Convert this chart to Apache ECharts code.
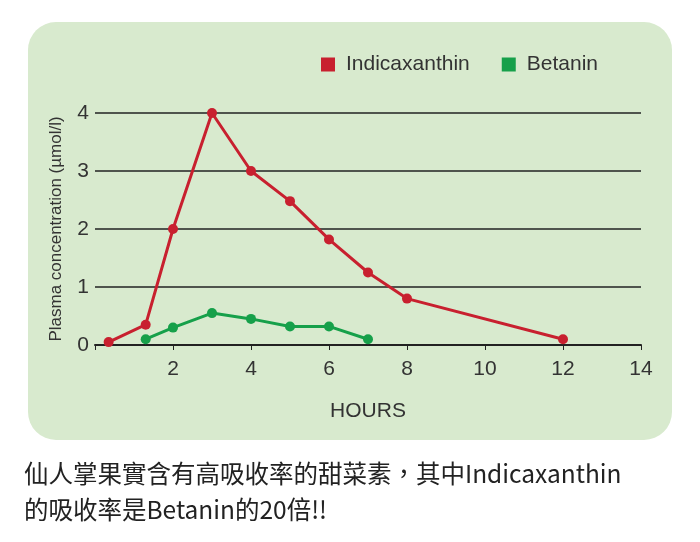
<!DOCTYPE html>
<html><head><meta charset="utf-8">
<script src="https://cdn.jsdelivr.net/npm/echarts@6/dist/echarts.min.js"></script>
<style>body{margin:0;background:#fff}#c{width:700px;height:542px}</style>
</head><body><div id="c"></div>
<script>
const indicaxanthin = [[0.35,0.05],[1.3,0.35],[2,2],[3,4],[4,3],[5,2.48],[6,1.82],[7,1.25],[8,0.8],[12,0.1]];
const betanin = [[1.3,0.1],[2,0.3],[3,0.55],[4,0.45],[5,0.32],[6,0.32],[7,0.1]];
const seriesNames = ['Indicaxanthin','Betanin'];
const caption = ['仙人掌果實含有高吸收率的甜菜素，其中Indicaxanthin','的吸收率是Betanin的20倍!!'];
const chart = echarts.init(document.getElementById('c'));
chart.setOption({
  animation:false,
  graphic:[
    {type:'rect',z:-10,shape:{x:28,y:22,width:644,height:418,r:28},style:{fill:'#d8eace'}},
    {type:'text',left:24,top:456,style:{text:caption.join('\n'),font:'24.5px "Noto Sans CJK TC"',fill:'#222',lineHeight:36}}
  ],
  legend:{top:49,left:316,itemWidth:14,itemHeight:14,itemGap:32,icon:'rect',
    textStyle:{fontSize:21,color:'#333',fontFamily:'Liberation Sans',padding:[0,0,0,6]},data:seriesNames},
  grid:{left:95,right:59,top:113,bottom:197},
  xAxis:{type:'value',min:0,max:14,interval:2,name:'HOURS',nameLocation:'middle',nameGap:56,
    nameTextStyle:{fontSize:21,color:'#333',fontFamily:'Liberation Sans'},
    axisLine:{lineStyle:{color:'#222',width:2}},axisTick:{show:true,length:5,lineStyle:{color:'#222'}},
    splitLine:{show:false},
    axisLabel:{fontSize:21,color:'#333',margin:14,fontFamily:'Liberation Sans',formatter:v=>v===0?'':v}},
  yAxis:{type:'value',min:0,max:4,interval:1,name:'Plasma concentration (µmol/l)',nameLocation:'middle',nameGap:30,
    nameTextStyle:{fontSize:17,color:'#333',fontFamily:'Liberation Sans'},
    axisLine:{show:false},axisTick:{show:false},
    splitLine:{lineStyle:{color:'#222',width:1.5}},
    axisLabel:{fontSize:21,color:'#333',margin:6,fontFamily:'Liberation Sans'}},
  series:[
    {name:seriesNames[0],type:'line',data:indicaxanthin,color:'#c8202f',symbol:'circle',symbolSize:10,lineStyle:{width:3}},
    {name:seriesNames[1],type:'line',data:betanin,color:'#16a04a',symbol:'circle',symbolSize:10,lineStyle:{width:3}}
  ]
});
</script></body></html>
